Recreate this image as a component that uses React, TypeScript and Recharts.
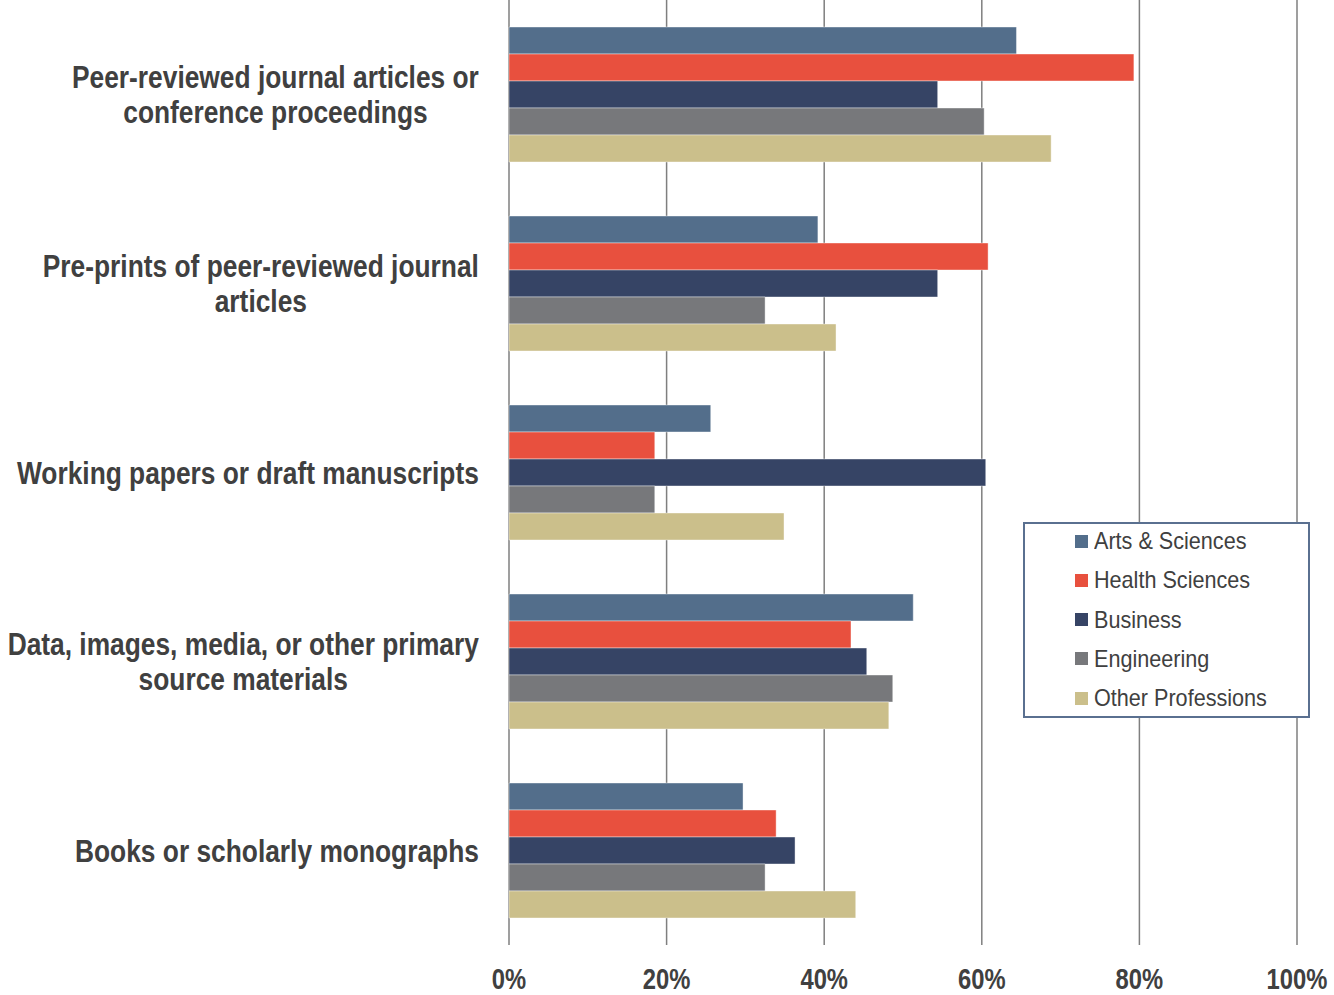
import { BarChart, Bar, XAxis, YAxis, CartesianGrid } from 'recharts';

// Arial Narrow isn't installed, so Liberation Sans gets squeezed horizontally instead
const FONT = "'Liberation Sans', Arial, sans-serif";
const TEXT = '#404040';
const SQUEEZE = 0.85;

// category labels, one entry per line
const CATEGORIES = [
  ['Peer-reviewed journal articles or', 'conference proceedings'],
  ['Pre-prints of peer-reviewed journal', 'articles'],
  ['Working papers or draft manuscripts'],
  ['Data, images, media, or other primary', 'source materials'],
  ['Books or scholarly monographs'],
];

const SERIES = ['Arts & Sciences', 'Health Sciences', 'Business', 'Engineering', 'Other Professions'];
const SERIES_COLORS = ['#536e8b', '#e8503e', '#364465', '#77787b', '#cbbf8b'];

const ARTS = [64.4, 39.2, 25.6, 51.3, 29.7];
const HEALTH = [79.3, 60.8, 18.5, 43.4, 33.9];
const BUSINESS = [54.4, 54.4, 60.5, 45.4, 36.3];
const ENGINEERING = [60.3, 32.5, 18.5, 48.7, 32.5];
const OTHER = [68.8, 41.5, 34.9, 48.2, 44.0];

const X_TICKS = [0, 20, 40, 60, 80, 100];

const VALUES = [ARTS, HEALTH, BUSINESS, ENGINEERING, OTHER];

const data = CATEGORIES.map((lines, i) => {
  const row: Record<string, string | number> = { x: lines.join(' ') };
  SERIES.forEach((s, j) => { row[s] = VALUES[j][i]; });
  return row;
});

let ctx: CanvasRenderingContext2D | null = null;
function textWidth(t: string, font: string) {
  if (!ctx) ctx = document.createElement('canvas').getContext('2d');
  if (!ctx) return t.length * 14;
  ctx.font = font;
  return ctx.measureText(t).width;
}

const LABEL_SIZE = 31;
const LABEL_RIGHT = 479;

function CategoryTick(props: any) {
  const { y, index } = props;
  const lines = CATEGORIES[index] || [];
  const font = `bold ${LABEL_SIZE}px ${FONT}`;
  const maxW = Math.max(...lines.map((l) => textWidth(l, font))) * SQUEEZE;
  const cx = LABEL_RIGHT - maxW / 2;
  const lh = 36;
  const startY = y - ((lines.length - 1) * lh) / 2 + 11;
  return (
    <text
      transform={`translate(${cx},${startY}) scale(${SQUEEZE},1)`}
      textAnchor="middle"
      fill={TEXT}
      fontFamily={FONT}
      fontWeight="bold"
      fontSize={LABEL_SIZE}
    >
      {lines.map((l, i) => (
        <tspan key={i} x={0} y={i * lh}>{l}</tspan>
      ))}
    </text>
  );
}

function PctTick(props: any) {
  const { x, payload } = props;
  return (
    <text
      transform={`translate(${x},989) scale(0.82,1)`}
      textAnchor="middle"
      fill={TEXT}
      fontFamily={FONT}
      fontWeight="bold"
      fontSize={29}
    >
      {`${payload.value}%`}
    </text>
  );
}

function LegendBox() {
  return (
    <div
      style={{
        position: 'absolute', left: 1023, top: 522, boxSizing: 'border-box', width: 287, height: 196,
        border: '2px solid #5a7090', background: '#fff', fontFamily: FONT, fontSize: 24, color: TEXT,
      }}
    >
      {SERIES.map((s, i) => (
        <div
          key={s}
          style={{ position: 'absolute', left: 50, top: i * 39.3, height: 34, display: 'flex', alignItems: 'center' }}
        >
          <span style={{ display: 'inline-block', width: 13, height: 13, background: SERIES_COLORS[i], marginRight: 6 }} />
          <span style={{ display: 'inline-block', transform: 'scaleX(0.9)', transformOrigin: 'left center', whiteSpace: 'nowrap' }}>
            {s}
          </span>
        </div>
      ))}
    </div>
  );
}

export default function App() {
  return (
    <div style={{ position: 'absolute', left: 0, top: 0, width: 1334, height: 995, background: '#fff' }}>
      <BarChart
        width={1334}
        height={995}
        data={data}
        layout="vertical"
        margin={{ top: 0, right: 37, left: 0, bottom: 0 }}
        barGap={0}
        barSize={27}
      >
        <CartesianGrid vertical horizontal={false} stroke="#7f7f7f" strokeWidth={1.5} />
        <XAxis
          type="number"
          domain={[0, 100]}
          ticks={X_TICKS}
          axisLine={false}
          tickLine={false}
          height={50}
          interval={0}
          tick={<PctTick />}
        />
        <YAxis
          type="category"
          dataKey="x"
          width={509}
          axisLine={false}
          tickLine={false}
          interval={0}
          tick={<CategoryTick />}
        />
        {SERIES.map((s, i) => (
          <Bar
            key={s}
            dataKey={s}
            fill={SERIES_COLORS[i]}
            stroke="#ffffff"
            strokeOpacity={0.5}
            strokeWidth={0.8}
            isAnimationActive={false}
          />
        ))}
      </BarChart>
      <LegendBox />
    </div>
  );
}
